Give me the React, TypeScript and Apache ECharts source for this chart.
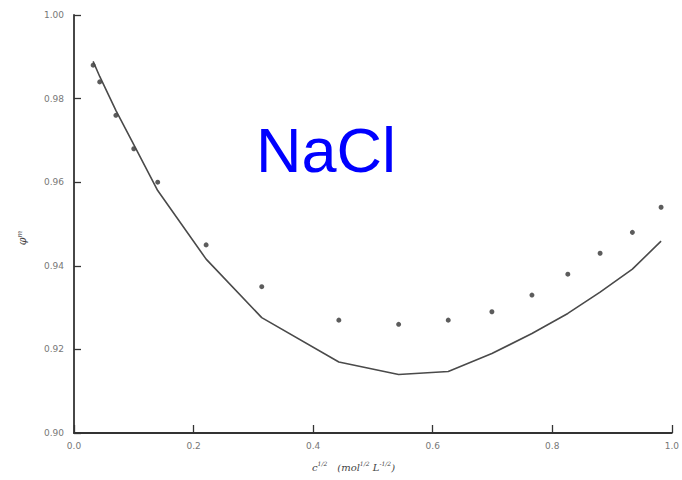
import React, { useEffect, useRef } from "react";
import * as echarts from "echarts";

// Square root of concentration, (mol/L)^1/2
const sqrtConc = [0.032, 0.043, 0.07, 0.1, 0.14, 0.221, 0.314, 0.443, 0.543, 0.626, 0.699, 0.766, 0.826, 0.88, 0.934, 0.982];
// Measured osmotic coefficient (points)
const measured = [0.988, 0.984, 0.976, 0.968, 0.96, 0.945, 0.935, 0.927, 0.926, 0.927, 0.929, 0.933, 0.938, 0.943, 0.948, 0.954];
// Model osmotic coefficient (curve)
const model = [0.9889, 0.9853, 0.9772, 0.969, 0.958, 0.9416, 0.9276, 0.917, 0.914, 0.9147, 0.919, 0.9238, 0.9286, 0.9337, 0.9392, 0.9459];

const xTicks = { min: 0, max: 1, interval: 0.2 };
const yTicks = { min: 0.9, max: 1.0, interval: 0.02 };

export default function App() {
  const ref = useRef<HTMLDivElement>(null);

  useEffect(() => {
    if (!ref.current) return;
    const chart = echarts.init(ref.current, undefined, { renderer: "svg" });
    const axisColor = "#333";
    const labelStyle = { color: "#777", fontSize: 9, fontFamily: "DejaVu Sans" };
    chart.setOption({
      animation: false,
      backgroundColor: "#fff",
      grid: { left: 74, right: 5, top: 15, bottom: 47, containLabel: false },
      xAxis: {
        type: "value",
        min: xTicks.min,
        max: xTicks.max,
        interval: xTicks.interval,
        axisLine: { show: true, onZero: false, lineStyle: { color: axisColor, width: 1.8 } },
        axisTick: { show: true, inside: true, length: 8, lineStyle: { color: axisColor, width: 1.3 } },
        splitLine: { show: false },
        axisLabel: { ...labelStyle, margin: 8, formatter: (v: number) => v.toFixed(1) },
      },
      yAxis: {
        type: "value",
        min: yTicks.min,
        max: yTicks.max,
        interval: yTicks.interval,
        axisLine: { show: true, onZero: false, lineStyle: { color: axisColor, width: 1.8 } },
        axisTick: { show: true, inside: true, length: 7, lineStyle: { color: axisColor, width: 1.3 } },
        splitLine: { show: false },
        axisLabel: { ...labelStyle, margin: 10, formatter: (v: number) => v.toFixed(2) },
      },
      series: [
        {
          type: "line",
          data: sqrtConc.map((x, i) => [x, model[i]]),
          showSymbol: false,
          lineStyle: { color: "#4a4a4a", width: 1.6 },
        },
        {
          type: "scatter",
          data: sqrtConc.map((x, i) => [x, measured[i]]),
          symbol: "circle",
          symbolSize: 5,
          itemStyle: { color: "#333" },
        },
      ],
      graphic: [
        {
          type: "text",
          left: 256,
          top: 118,
          style: {
            text: "NaCl",
            fill: "#0000ff",
            font: '63px "Liberation Sans", Arial, sans-serif',
          },
        },
        {
          type: "text",
          x: 312,
          y: 466,
          style: {
            text: "{i|c}{s|1/2}   {i|(mol}{s|1/2} {i|L}{s|-1/2}{i|)}",
            verticalAlign: "middle",
            rich: {
              i: { fontSize: 10, fontStyle: "italic", fontFamily: "DejaVu Serif", fill: "#444", verticalAlign: "bottom" },
              s: { fontSize: 6, fontStyle: "italic", fontFamily: "DejaVu Serif", fill: "#444", verticalAlign: "top" },
            },
          },
        },
        {
          type: "text",
          x: 22,
          y: 238,
          rotation: Math.PI / 2,
          style: {
            text: "{i|φ}{s|m}",
            align: "center",
            verticalAlign: "middle",
            rich: {
              i: { fontSize: 11, fontStyle: "italic", fontFamily: "DejaVu Serif", fill: "#444", verticalAlign: "bottom" },
              s: { fontSize: 7, fontStyle: "italic", fontFamily: "DejaVu Serif", fill: "#444", verticalAlign: "top" },
            },
          },
        },
      ],
    });
    return () => chart.dispose();
  }, []);

  return (
    <div
      ref={ref}
      style={{ position: "fixed", left: 0, top: 0, width: 682, height: 480 }}
    />
  );
}
